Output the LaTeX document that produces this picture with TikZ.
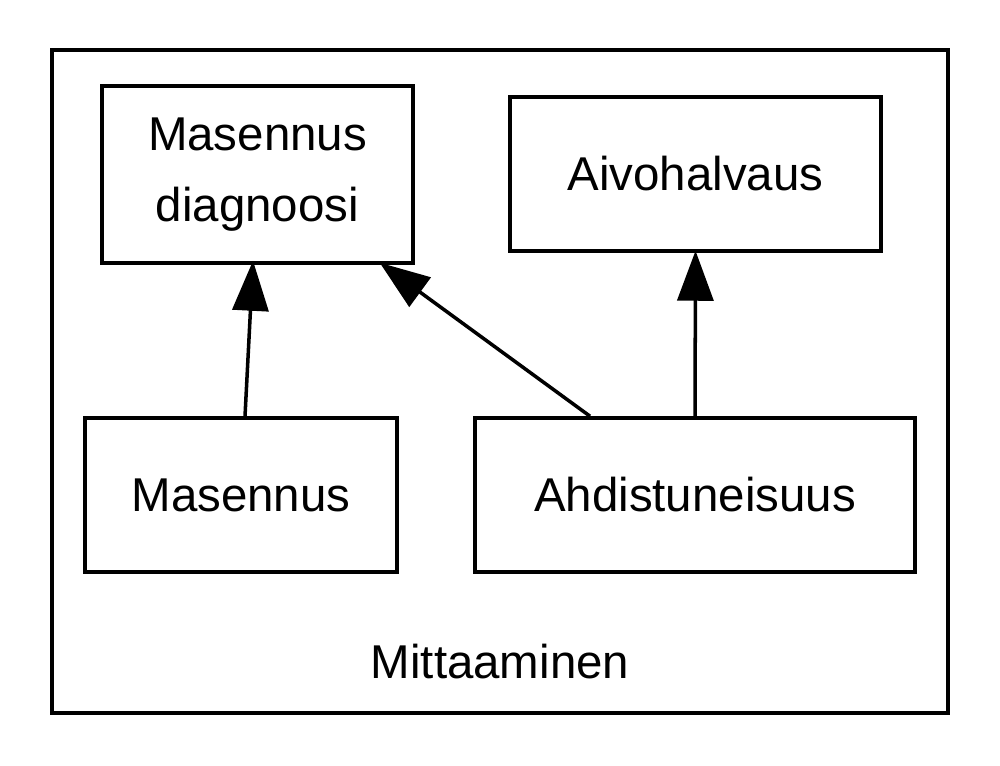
\documentclass[tikz,border=0pt]{standalone}
\usepackage{fontspec}
\setmainfont{Liberation Sans}
\usetikzlibrary{arrows.meta}
\begin{document}
\begin{tikzpicture}[
  box/.style={draw, line width=1pt, inner sep=0pt, font=\fontsize{13.5}{20}\selectfont, align=center},
  conn/.style={line width=1pt, -{Triangle[length=0.5cm,width=0.36cm]}}
]
\useasboundingbox (0,0) rectangle (10,7.66);
\node[draw, line width=1pt, minimum width=8.96cm, minimum height=6.63cm, inner sep=0pt] (outer) at (5.00,3.845) {};
\node[box, minimum width=3.11cm, minimum height=1.77cm] (MD) at (2.575,5.915) {Masennus\\diagnoosi};
\node[box, minimum width=3.71cm, minimum height=1.54cm] (AV) at (6.955,5.92) {Aivohalvaus};
\node[box, minimum width=3.12cm, minimum height=1.54cm] (M) at (2.41,2.71) {Masennus};
\node[box, minimum width=4.40cm, minimum height=1.54cm] (AH) at (6.95,2.71) {Ahdistuneisuus};
\node[font=\fontsize{13.5}{17}\selectfont] (label) at (5.00,1.04) {Mittaaminen};
\draw[conn] ([xshift=0.04cm]M.north) -- ([xshift=-0.045cm,yshift=0.04cm]MD.south);
\draw[conn] ([xshift=-1.05cm]AH.north) -- ([xshift=-0.35cm,yshift=0.02cm]MD.south east);
\draw[conn] (AH.north) -- ([yshift=0.02cm]AV.south);
\end{tikzpicture}
\end{document}
